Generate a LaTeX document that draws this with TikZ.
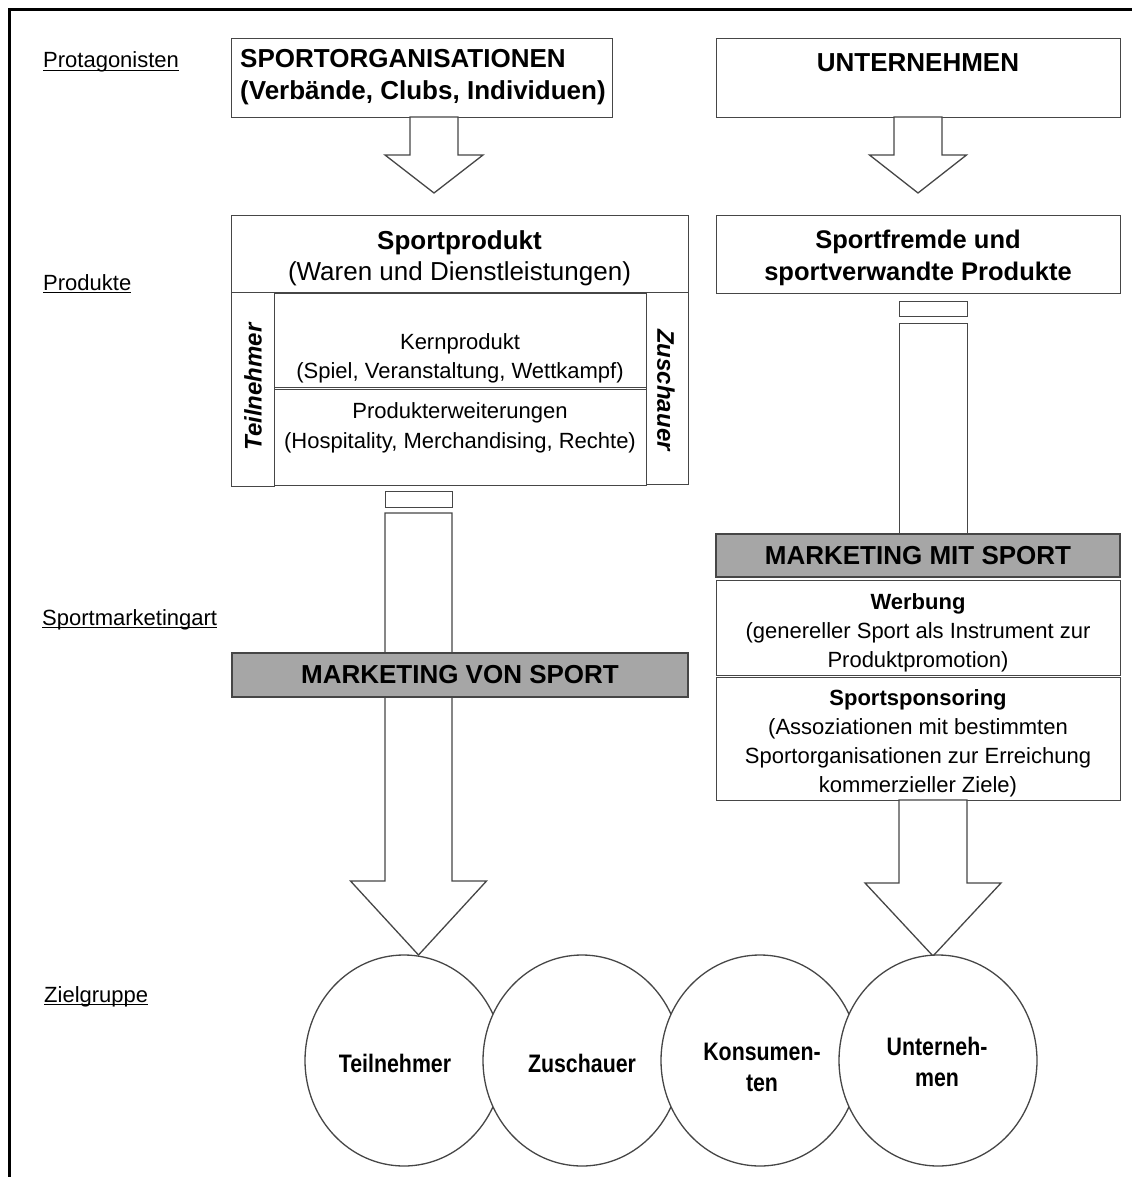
\documentclass[tikz,border=0pt]{standalone}
\usepackage{fontspec}
\usepackage{graphicx}
\usetikzlibrary{shapes.geometric}
\setmainfont{Liberation Sans}
\definecolor{boxgray}{RGB}{166,166,166}
\definecolor{linec}{RGB}{70,70,70}
\newcommand\myul[1]{\setbox0\hbox{#1}\rlap{\rule[-3pt]{\wd0}{1.4pt}}\box0}
\newcommand\talltxt[1]{\scalebox{0.97}[1.15]{#1}}
\tikzset{
  bx/.style={draw=linec, line width=1.3pt, fill=white, inner sep=0pt, anchor=north west},
  gbx/.style={draw=linec, line width=1.3pt, fill=boxgray, inner sep=0pt},
  blockarrow/.style={draw=linec, line width=1.3pt, fill=white, line join=miter},
  lbl/.style={anchor=base west, inner sep=0pt, font=\fontsize{22}{26}\selectfont},
  txt/.style={inner sep=0pt, align=center, font=\fontsize{22}{29}\selectfont},
  circ/.style={ellipse, draw=linec, line width=1.3pt, fill=white, minimum width=198pt, minimum height=211pt, inner sep=0pt},
  ctxt/.style={inner sep=0pt, align=center, font=\bfseries\fontsize{22}{31}\selectfont},
  vtxt/.style={inner sep=0pt, font=\bfseries\itshape\fontsize{24}{28}\selectfont}
}
\begin{document}
\begin{tikzpicture}[x=1pt, y=-1pt]
\useasboundingbox (0,0) rectangle (1132,1177);
% frame
\draw[line width=3pt] (9.5,1177) -- (9.5,9.5) -- (1132,9.5);

% row labels
\node[lbl] (lprot) at (43,68) {\myul{Protagonisten}};
\node[lbl] (lprod) at (43,290) {\myul{Produkte}};
\node[lbl] (lsma) at (42,625) {\myul{Sportmarketingart}};
\node[lbl] (lziel) at (44,1002) {\myul{Zielgruppe}};

% protagonists
\node[bx, minimum width=381pt, minimum height=79pt] (spo) at (231,38) {};
\node[anchor=north west, inner sep=0pt, align=left, font=\bfseries\fontsize{26}{32}\selectfont] (spoT) at (240,49) {SPORTORGANISATIONEN\\(Verbände, Clubs, Individuen)};
\node[bx, minimum width=404pt, minimum height=79pt] (unt) at (716,38) {};
\node[anchor=base, inner sep=0pt, font=\bfseries\fontsize{26}{32}\selectfont] (untT) at (918,72) {UNTERNEHMEN};

% top arrows
\coordinate (a1) at (434,117);
\draw[blockarrow] (a1) ++(-24,0) -- ++(0,38) -- ++(-25,0) -- ++(49,38) -- ++(49,-38) -- ++(-25,0) -- ++(0,-38) -- cycle;
\coordinate (a2) at (918,117);
\draw[blockarrow] (a2) ++(-24,0) -- ++(0,38) -- ++(-24.5,0) -- ++(48.5,38) -- ++(48.5,-38) -- ++(-24.5,0) -- ++(0,-38) -- cycle;

% products left
\node[bx, minimum width=457pt, minimum height=77pt] (spp) at (231,215) {};
\node[anchor=north, inner sep=0pt, align=center, font=\fontsize{26}{31}\selectfont] (sppT) at (459.5,230) {\textbf{Sportprodukt}\\(Waren und Dienstleistungen)};
\node[bx, minimum width=43pt, minimum height=194pt] (teil) at (231,292) {};
\node[vtxt, rotate=90] (teilT) at (253,387) {Teilnehmer};
\node[bx, minimum width=372pt, minimum height=94pt] (kern) at (274,293) {};
\node[txt, anchor=north] (kernT) at (460,333) {Kernprodukt\\(Spiel, Veranstaltung, Wettkampf)};
\node[bx, minimum width=372pt, minimum height=96pt] (erw) at (274,389) {};
\node[txt, anchor=north, font=\fontsize{22}{30}\selectfont] (erwT) at (460,402) {Produkterweiterungen\\(Hospitality, Merchandising, Rechte)};
\node[bx, minimum width=42pt, minimum height=192pt] (zu) at (646,292) {};
\node[vtxt, rotate=-90] (zuT) at (666,390) {Zuschauer};

% products right
\node[bx, minimum width=404pt, minimum height=78pt] (sf) at (716,215) {};
\node[anchor=north, inner sep=0pt, align=center, font=\bfseries\fontsize{25.5}{32}\selectfont] (sfT) at (918,230) {Sportfremde und\\sportverwandte Produkte};

% left stem and big arrow
\node[bx, minimum width=67pt, minimum height=16pt] (sl) at (385,491) {};
\coordinate (a3) at (418.5,513);
\draw[blockarrow] (a3) ++(-33.5,0) -- ++(0,368) -- ++(-34.5,0) -- ++(68,74) -- ++(68,-74) -- ++(-34.5,0) -- ++(0,-368) -- cycle;
\node[gbx, minimum width=456pt, minimum height=44pt, font=\bfseries\fontsize{26}{31}\selectfont] (mvs) at (460,675) {MARKETING VON SPORT};

% right stem
\node[bx, minimum width=68pt, minimum height=15pt] (sr) at (899,301) {};
\node[bx, minimum width=68pt, minimum height=211pt] (srs) at (899,323) {};
\node[gbx, minimum width=404pt, minimum height=43pt, font=\bfseries\fontsize{26}{31}\selectfont] (mms) at (918,555.5) {MARKETING MIT SPORT};
\node[bx, minimum width=404pt, minimum height=95pt] (wer) at (716,580) {};
\node[txt, anchor=north] (werT) at (918,593) {\textbf{Werbung}\\(genereller Sport als Instrument zur\\Produktpromotion)};
\node[bx, minimum width=404pt, minimum height=123pt] (sps) at (716,677) {};
\node[txt, anchor=north] (spsT) at (918,689) {\textbf{Sportsponsoring}\\(Assoziationen mit bestimmten\\Sportorganisationen zur Erreichung\\kommerzieller Ziele)};
\coordinate (a4) at (933,800);
\draw[blockarrow] (a4) ++(-34,0) -- ++(0,83) -- ++(-34,0) -- ++(68,73) -- ++(68,-73) -- ++(-34,0) -- ++(0,-83) -- cycle;

% target groups
\node[circ] (c1) at (404,1060.5) {};
\node[circ] (c2) at (582,1060.5) {};
\node[circ] (c3) at (760,1060.5) {};
\node[circ] (c4) at (938,1060.5) {};
\node[ctxt] (c1T) at (395,1063) {\talltxt{Teilnehmer}};
\node[ctxt] (c2T) at (582,1063) {\talltxt{Zuschauer}};
\node[ctxt] (c3T) at (762,1067) {\talltxt{Konsumen-}\\\talltxt{ten}};
\node[ctxt] (c4T) at (937,1062) {\talltxt{Unterneh-}\\\talltxt{men}};
\end{tikzpicture}
\end{document}
